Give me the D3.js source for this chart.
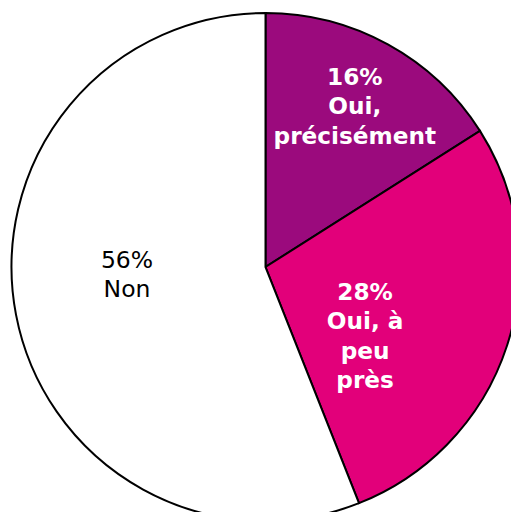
<!DOCTYPE html>
<html>
<head>
<meta charset="utf-8">
<script src="https://cdn.jsdelivr.net/npm/d3@7"></script>
<style>
  body { margin: 0; background: #fff; }
  svg { display: block; }
</style>
</head>
<body>
<div id="chart"></div>
<script>
// data
var categories = ["Oui, précisément", "Oui, à peu près", "Non"];
var values = [16, 28, 56];
var colors = ["#9b0a7d", "#e2007a", "#ffffff"];
var textColors = ["#ffffff", "#ffffff", "#000000"];
var bold = [true, true, false];
// label lines (wrapped the way the picture shows them)
var labelLines = [
  ["16%", "Oui,", "précisément"],
  ["28%", "Oui, à", "peu", "près"],
  ["56%", "Non"]
];

// label placement: angle (deg, clockwise from top) and distance as fraction of radius
var labelAngle = [29, 124.7, 267.1];
var labelDist = [0.725, 0.477, 0.546];

var width = 511, height = 512;
var cx = 265.5, cy = 267, radius = 254;

var svg = d3.select("#chart")
  .append("svg")
    .attr("width", width)
    .attr("height", height)
  .append("g")
    .attr("transform", "translate(" + cx + "," + cy + ")");

var pie = d3.pie().sort(null).value(function(d) { return d; });
var arcs = pie(values);

var arc = d3.arc().innerRadius(0).outerRadius(radius);

svg.selectAll("path.slice")
  .data(arcs)
  .enter()
  .append("path")
    .attr("class", "slice")
    .attr("d", arc)
    .style("fill", function(d, i) { return colors[i]; })
    .style("stroke", "#000")
    .style("stroke-width", 2);

var lineH = 29.5;

svg.selectAll("text.lbl")
  .data(arcs)
  .enter()
  .append("text")
    .attr("class", "lbl")
    .attr("text-anchor", "middle")
    .style("font-family", "'DejaVu Sans', Verdana, sans-serif")
    .style("font-size", function(d, i) { return bold[i] ? "23.2px" : "23.5px"; })
    .style("font-weight", function(d, i) { return bold[i] ? "bold" : "normal"; })
    .style("fill", function(d, i) { return textColors[i]; })
    .each(function(d, i) {
      var a = labelAngle[i] * Math.PI / 180;
      var r = radius * labelDist[i];
      var x = r * Math.sin(a), y = -r * Math.cos(a);
      var lines = labelLines[i];
      var top = y - (lines.length - 1) * lineH / 2;
      var t = d3.select(this);
      lines.forEach(function(s, k) {
        t.append("tspan")
          .attr("x", x)
          .attr("y", top + k * lineH)
          .attr("dy", "0.35em")
          .text(s);
      });
    });
</script>
</body>
</html>
